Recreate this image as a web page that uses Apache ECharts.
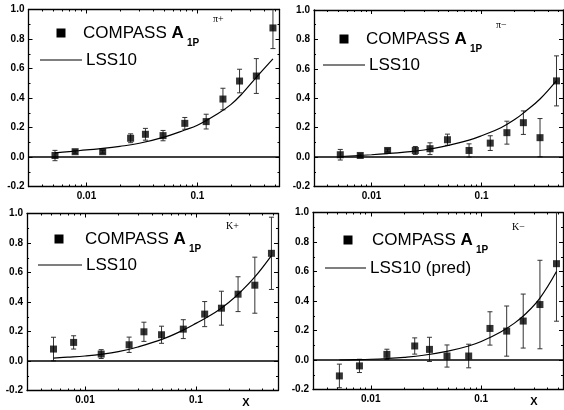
<!DOCTYPE html>
<html>
<head>
<meta charset="utf-8">
<script src="https://cdn.jsdelivr.net/npm/echarts@6/dist/echarts.min.js"></script>
<style>
  html, body { margin: 0; padding: 0; background: #fff; }
  #main { width: 564px; height: 410px; }
</style>
</head>
<body>
<div id="main"></div>
<script>
// x bins of the COMPASS points (same for all four panels)
var xBins = [0.0052, 0.0079, 0.014, 0.025, 0.034, 0.049, 0.077, 0.12, 0.17, 0.24, 0.34, 0.48];

// A1P pi+
var piPlusA   = [0.010, 0.036, 0.036, 0.127, 0.154, 0.145, 0.228, 0.240, 0.393, 0.515, 0.549, 0.875];
var piPlusErr = [0.035, 0.010, 0.010, 0.030, 0.040, 0.035, 0.040, 0.050, 0.073, 0.080, 0.118, 0.140];
// A1P pi-
var piMinusA   = [0.016, 0.011, 0.045, 0.045, 0.057, 0.118, 0.045, 0.095, 0.166, 0.234, 0.132, 0.518];
var piMinusErr = [0.036, 0.010, 0.010, 0.027, 0.040, 0.038, 0.045, 0.050, 0.078, 0.080, 0.130, 0.170];
// A1P K+
var kPlusA   = [0.081, 0.126, 0.047, 0.110, 0.198, 0.178, 0.216, 0.318, 0.358, 0.453, 0.514, 0.730];
var kPlusErr = [0.080, 0.045, 0.030, 0.052, 0.065, 0.058, 0.064, 0.085, 0.115, 0.118, 0.190, 0.245];
// A1P K-
var kMinusA   = [-0.108, -0.040, 0.038, 0.095, 0.072, 0.027, 0.027, 0.214, 0.196, 0.264, 0.376, 0.653];
var kMinusErr = [0.080, 0.045, 0.035, 0.055, 0.082, 0.075, 0.080, 0.113, 0.170, 0.183, 0.300, 0.390];

// LSS10 curves
var curveX = [0.0052, 0.007, 0.01, 0.014, 0.02, 0.03, 0.05, 0.077, 0.1, 0.15, 0.2, 0.25, 0.34, 0.48];
var lssPiPlus  = [0.028, 0.036, 0.048, 0.058, 0.072, 0.093, 0.135, 0.183, 0.215, 0.290, 0.355, 0.425, 0.540, 0.665];
var lssPiMinus = [0.004, 0.009, 0.016, 0.024, 0.034, 0.048, 0.080, 0.115, 0.145, 0.200, 0.255, 0.310, 0.395, 0.520];
var lssKPlus   = [0.020, 0.026, 0.034, 0.045, 0.063, 0.095, 0.148, 0.210, 0.255, 0.330, 0.400, 0.465, 0.570, 0.715];
var lssKMinus  = [0.000, 0.002, 0.005, 0.010, 0.018, 0.032, 0.060, 0.095, 0.125, 0.190, 0.250, 0.310, 0.420, 0.600];

// axis ticks
var xMajorTicks = [0.01, 0.1];
var xMinorTicks = [0.004, 0.005, 0.006, 0.007, 0.008, 0.009,
                   0.02, 0.03, 0.04, 0.05, 0.06, 0.07, 0.08, 0.09,
                   0.2, 0.3, 0.4, 0.5];
var xMin = 0.003, xMax = 0.55;
var yMin = -0.2, yMax = 1.0, yStep = 0.2;

var panels = [
  { a: piPlusA,  err: piPlusErr,  lss: lssPiPlus,  grid: { left: 28.5, top: 9.5, width: 251, height: 177 } },
  { a: piMinusA, err: piMinusErr, lss: lssPiMinus, grid: { left: 314, top: 10, width: 249, height: 176.5 } },
  { a: kPlusA,   err: kPlusErr,   lss: lssKPlus,   grid: { left: 27, top: 213.5, width: 251, height: 177 } },
  { a: kMinusA,  err: kMinusErr,  lss: lssKMinus,  grid: { left: 313, top: 212.5, width: 250, height: 177 } }
];

var lg = function (v) { return Math.log10(v); };
var font = 'Liberation Sans, Arial, sans-serif';
var black = '#000';

var grids = [], xAxes = [], yAxes = [], series = [];

panels.forEach(function (p, i) {
  grids.push(p.grid);
  var base = {
    type: 'value', gridIndex: i, min: lg(xMin), max: lg(xMax),
    splitLine: { show: false }
  };
  // bottom major
  xAxes.push(Object.assign({}, base, {
    position: 'bottom',
    axisLine: { show: true, onZero: false, lineStyle: { color: black, width: 1.3 } },
    axisTick: { show: true, inside: true, length: 4, lineStyle: { color: black, width: 1 },
                customValues: xMajorTicks.map(lg) },
    axisLabel: { show: true, customValues: xMajorTicks.map(lg), margin: 5,
                 color: black, fontFamily: font, fontWeight: 'bold', fontSize: 10,
                 formatter: function (v) { return Math.abs(v + 2) < 1e-6 ? '0.01' : '0.1'; } }
  }));
  // bottom minor
  xAxes.push(Object.assign({}, base, {
    position: 'bottom',
    axisLine: { show: false, onZero: false },
    axisTick: { show: true, inside: true, length: 2, lineStyle: { color: black, width: 1 },
                customValues: xMinorTicks.map(lg) },
    axisLabel: { show: false }
  }));
  // top major
  xAxes.push(Object.assign({}, base, {
    position: 'top',
    axisLine: { show: true, onZero: false, lineStyle: { color: black, width: 1.3 } },
    axisTick: { show: true, inside: true, length: 4, lineStyle: { color: black, width: 1 },
                customValues: xMajorTicks.map(lg) },
    axisLabel: { show: false }
  }));
  // top minor
  xAxes.push(Object.assign({}, base, {
    position: 'top',
    axisLine: { show: false, onZero: false },
    axisTick: { show: true, inside: true, length: 2, lineStyle: { color: black, width: 1 },
                customValues: xMinorTicks.map(lg) },
    axisLabel: { show: false }
  }));

  var yBase = {
    type: 'value', gridIndex: i, min: yMin, max: yMax, interval: yStep,
    splitLine: { show: false },
    axisLine: { show: true, onZero: false, lineStyle: { color: black, width: 1.3 } },
    axisTick: { show: true, inside: true, length: 4, lineStyle: { color: black, width: 1 } },
    minorTick: { show: true, splitNumber: 2, length: 2, lineStyle: { color: black, width: 1 } }
  };
  yAxes.push(Object.assign({}, yBase, {
    position: 'left',
    axisLabel: { show: true, margin: 4, color: black, fontFamily: font, fontWeight: 'bold', fontSize: 10,
                 formatter: function (v) { return v.toFixed(1); } }
  }));
  yAxes.push(Object.assign({}, yBase, {
    position: 'right',
    axisLabel: { show: false }
  }));

  var xi = i * 4, yi = i * 2;

  series.push({
    type: 'line', xAxisIndex: xi, yAxisIndex: yi,
    data: curveX.map(function (x, k) { return [lg(x), p.lss[k]]; }),
    smooth: 0.4, symbol: 'none', silent: true,
    lineStyle: { color: black, width: 1.2 },
    markLine: {
      silent: true, symbol: 'none', animation: false,
      label: { show: false },
      lineStyle: { color: black, width: 1.5, type: 'solid' },
      data: [{ yAxis: 0 }]
    }
  });

  series.push({
    type: 'custom', xAxisIndex: xi, yAxisIndex: yi, clip: true, silent: true,
    data: xBins.map(function (x, k) { return [lg(x), p.a[k], p.err[k]]; }),
    encode: { x: 0, y: 1 },
    renderItem: function (params, api) {
      var x = api.value(0), y = api.value(1), e = api.value(2);
      var hi = api.coord([x, y + e]), lo = api.coord([x, y - e]);
      var w = 2.5;
      var st = { stroke: '#333', lineWidth: 1 };
      return {
        type: 'group',
        children: [
          { type: 'line', shape: { x1: hi[0], y1: hi[1], x2: lo[0], y2: lo[1] }, style: st },
          { type: 'line', shape: { x1: hi[0] - w, y1: hi[1], x2: hi[0] + w, y2: hi[1] }, style: st },
          { type: 'line', shape: { x1: lo[0] - w, y1: lo[1], x2: lo[0] + w, y2: lo[1] }, style: st }
        ]
      };
    }
  });

  series.push({
    type: 'scatter', xAxisIndex: xi, yAxisIndex: yi, silent: true,
    data: xBins.map(function (x, k) { return [lg(x), p.a[k]]; }),
    symbol: 'rect', symbolSize: 7,
    itemStyle: { color: black }
  });
});

// legend boxes drawn by hand (sub/superscripts)
function legend(sq, txtX, txtY, subX, supX, supY, supTxt, lineX1, lineX2, lineY, lssTxt) {
  return [
    { type: 'rect', shape: { x: sq[0] - 4.5, y: sq[1] - 4.5, width: 9, height: 9 }, style: { fill: black } },
    { type: 'text', x: txtX, y: txtY, style: {
        text: '{n|COMPASS }{b|A}', verticalAlign: 'middle', align: 'left',
        rich: { n: { fontSize: 17, fontFamily: font, fill: black },
                b: { fontSize: 17, fontFamily: font, fontWeight: 'bold', fill: black } } } },
    { type: 'text', x: subX, y: txtY + 10, style: {
        text: '1P', font: 'bold 10px ' + font, fill: black, verticalAlign: 'middle', align: 'left' } },
    { type: 'text', x: supX, y: supY, style: {
        text: supTxt, font: 'normal 10px Liberation Serif, serif', fill: black, verticalAlign: 'middle', align: 'left' } },
    { type: 'line', shape: { x1: lineX1, y1: lineY, x2: lineX2, y2: lineY }, style: { stroke: black, lineWidth: 1.2 } },
    { type: 'text', x: lineX2 + 4, y: lineY, style: {
        text: lssTxt, font: 'normal 17px ' + font, fill: black, verticalAlign: 'middle', align: 'left' } }
  ];
}

var graphics = []
  .concat(legend([61, 33], 83, 33, 187, 213, 19, 'π+', 40, 82, 60, 'LSS10'))
  .concat(legend([344, 39], 366, 39, 470, 496, 25, 'π−', 323, 365, 65, 'LSS10'))
  .concat(legend([59, 239], 85, 239, 189, 226, 226, 'K+', 38, 82, 265, 'LSS10'))
  .concat(legend([348, 240], 372, 240, 476, 512, 227, 'K−', 325, 366, 268, 'LSS10 (pred)'))
  .concat([
    { type: 'text', x: 246, y: 403, style: { text: 'X', font: 'bold 11px ' + font, fill: black, align: 'center', verticalAlign: 'middle' } },
    { type: 'text', x: 534, y: 402, style: { text: 'X', font: 'bold 11px ' + font, fill: black, align: 'center', verticalAlign: 'middle' } }
  ]);

var chart = echarts.init(document.getElementById('main'));
chart.setOption({
  animation: false,
  backgroundColor: '#fff',
  grid: grids,
  xAxis: xAxes,
  yAxis: yAxes,
  series: series,
  graphic: graphics
});
</script>
</body>
</html>
